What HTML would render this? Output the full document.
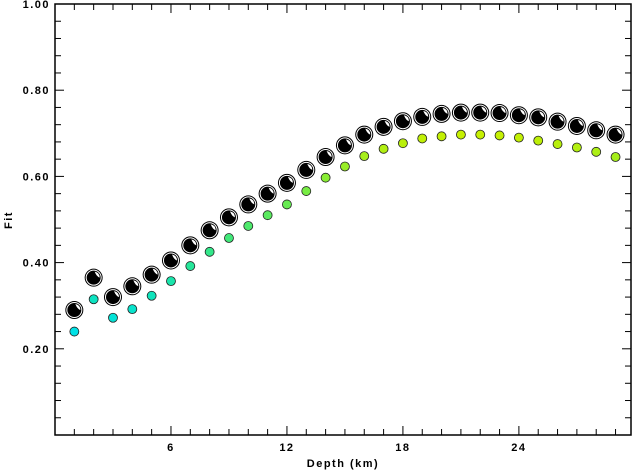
<!DOCTYPE html>
<html><head><meta charset="utf-8"><style>
body{margin:0;background:#fff;}
svg text{font-family:"Liberation Sans",sans-serif;font-weight:bold;font-size:11px;letter-spacing:1.5px;}
</style></head><body>
<svg id="c" width="632" height="471" xmlns="http://www.w3.org/2000/svg"></svg>
<script>
const depths=[1,2,3,4,5,6,7,8,9,10,11,12,13,14,15,16,17,18,19,20,21,22,23,24,25,26,27,28,29];
const ballFit=[0.29,0.365,0.32,0.345,0.372,0.405,0.44,0.475,0.505,0.535,0.56,0.585,0.615,0.645,0.672,0.697,0.715,0.728,0.738,0.745,0.748,0.748,0.747,0.742,0.737,0.727,0.717,0.707,0.697];
const dotFit=[0.24,0.315,0.272,0.292,0.323,0.357,0.392,0.425,0.457,0.485,0.51,0.535,0.566,0.597,0.623,0.647,0.664,0.677,0.688,0.693,0.697,0.697,0.695,0.690,0.683,0.675,0.667,0.657,0.645];
const xTicks=[6,12,18,24];
const yTicks=[0.2,0.4,0.6,0.8,1.0];
const yTickLabels=["0.20","0.40","0.60","0.80","1.00"];
const X0=55,X1=631,Y0=435,Y1=4,DMAX=29.8;
const sx=d=>X0+d*(X1-X0)/DMAX, sy=v=>Y0-v*(Y0-Y1);
const svg=document.getElementById('c');const NS="http://www.w3.org/2000/svg";
function mk(t,a,p){const e=document.createElementNS(NS,t);for(const k in a)e.setAttribute(k,a[k]);(p||svg).appendChild(e);return e;}
const frame=mk('rect',{x:X0,y:Y1,width:X1-X0,height:Y0-Y1,fill:'none',stroke:'#000','stroke-width':1.5});

// minor ticks
for(let d=1;d<DMAX;d++){const L=xTicks.includes(d)?9:6;
 mk('line',{x1:sx(d),x2:sx(d),y1:Y0,y2:Y0-L,stroke:'#000'});mk('line',{x1:sx(d),x2:sx(d),y1:Y1,y2:Y1+L,stroke:'#000'});}
for(let i=1;i<25;i++){const v=i*0.04;const L=(i%5==0)?9:6;
 mk('line',{x1:X0,x2:X0+L,y1:sy(v),y2:sy(v),stroke:'#000'});mk('line',{x1:X1,x2:X1-L,y1:sy(v),y2:sy(v),stroke:'#000'});}
xTicks.forEach(d=>{const t=mk('text',{x:sx(d),y:451,'text-anchor':'middle'});t.textContent=d;
 });
yTicks.forEach((v,i)=>{const t=mk('text',{x:50,y:sy(v)+4,'text-anchor':'end'});t.textContent=yTickLabels[i];
 });
const xt=mk('text',{x:343,y:467,'text-anchor':'middle','font-size':'12px'});xt.textContent='Depth (km)';

const yt=mk('text',{x:12,y:220,'text-anchor':'middle',transform:'rotate(-90 12 220)','font-size':'12px'});yt.textContent='Fit';

function col(v){const t=Math.max(0,Math.min(1,(v-0.24)/0.46));
 const r=Math.round(0+200*Math.pow(t,1.5)),g=Math.round(225+15*t),b=Math.round(230*(1-t));return `rgb(${r},${g},${b})`;}
depths.forEach((d,i)=>{
 const c=mk('circle',{cx:sx(d),cy:sy(dotFit[i]),r:4.5,fill:col(dotFit[i]),stroke:'#222','stroke-width':0.8});
 
 const g=mk('g',{transform:`translate(${sx(d)},${sy(ballFit[i])})`});
 
 mk('circle',{r:9,fill:'#000'},g);
 mk('circle',{r:7.5,fill:'#000',stroke:'#fff','stroke-width':1},g);
 mk('path',{d:'M1,-6 Q6,-5 6,0 Q3,-1 1,-6Z',fill:'#fff'},g);
});
</script>
</body></html>
